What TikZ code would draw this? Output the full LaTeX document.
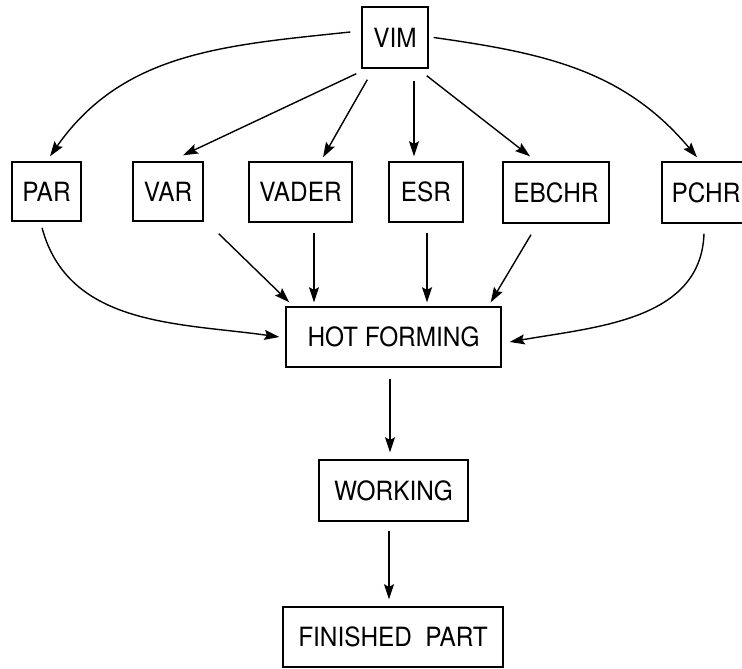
\documentclass[tikz,border=0pt]{standalone}
\usepackage{fontspec}
\setmainfont{TeX Gyre Heros}[FakeStretch=0.92]
\usetikzlibrary{arrows.meta}

\tikzset{
  box/.style={draw, line width=1.4pt, inner sep=0pt, minimum height=60pt,
              font=\fontsize{26.5}{30}\selectfont},
  flow/.style={line width=1.4pt, -{Stealth[length=15pt,width=10pt,inset=2.5pt]}},
}

\begin{document}
\begin{tikzpicture}[x=1pt, y=-1pt]
  \useasboundingbox (0,0) rectangle (742,669);

  % process boxes
  \node[box, minimum width=66pt, minimum height=61pt]  (vim)   at (395,37.5)  {VIM};
  \node[box, minimum width=69pt, minimum height=59pt]  (par)   at (46.5,191.5) {PAR};
  \node[box, minimum width=70pt, minimum height=59pt]  (var)   at (168,191.5)  {VAR};
  \node[box, minimum width=103pt]                      (vader) at (300.5,192)  {VADER};
  \node[box, minimum width=74pt]                       (esr)   at (426,192)    {ESR};
  \node[box, minimum width=106pt, minimum height=61pt] (ebchr) at (556,192.5)  {EBCHR};
  \node[box, minimum width=88pt, minimum height=61pt]  (pchr)  at (706,192.5)  {PCHR};
  \node[box, minimum width=215pt]                      (hot)   at (393.5,337)  {HOT FORMING};
  \node[box, minimum width=149pt, minimum height=61pt] (work)  at (393.5,490.5) {WORKING};
  \node[box, minimum width=220pt]                      (fin)   at (393,637)    {FINISHED\hspace{0.5em}PART};

  % VIM to the remelting routes
  \draw[flow] ([xshift=-11pt,yshift=5.5pt]vim.west) to[out=186, in=55]
              ([xshift=3.5pt,yshift=5pt]par.north);
  \draw[flow] ([xshift=5pt]vim.east) to[out=-8, in=130]
              ([xshift=-9pt,yshift=4pt]pchr.north);
  \draw[flow] ([xshift=-5pt,yshift=-5pt]vim.south west) -- ([xshift=15pt,yshift=6pt]var.north);
  \draw[flow] ([xshift=6pt,yshift=-11pt]vim.south west) -- ([xshift=22.5pt,yshift=4pt]vader.north);
  \draw[flow] ([xshift=19pt,yshift=-12pt]vim.south) -- ([xshift=-12pt,yshift=5pt]esr.north);
  \draw[flow] ([xshift=-2pt,yshift=-7pt]vim.south east) -- ([xshift=-26pt,yshift=5pt]ebchr.north);

  % remelting routes to hot forming
  \draw[flow] ([xshift=-4.5pt,yshift=-6pt]par.south) to[out=-75, in=172]
              ([xshift=-6pt]hot.west);
  \draw[flow] ([xshift=15pt,yshift=-12pt]var.south east) -- ([xshift=4pt,yshift=4pt]hot.north west);
  \draw[flow] ([xshift=13.5pt,yshift=-10pt]vader.south) -- ([xshift=-79.5pt,yshift=4pt]hot.north);
  \draw[flow] ([xshift=1pt,yshift=-10pt]esr.south) -- ([xshift=33.5pt,yshift=4pt]hot.north);
  \draw[flow] ([xshift=-25pt,yshift=-11pt]ebchr.south) -- ([xshift=-11pt,yshift=4pt]hot.north east);
  \draw[flow] ([xshift=-2pt,yshift=-10pt]pchr.south) to[out=-92, in=10]
              ([xshift=8pt,yshift=-5pt]hot.east);

  % downstream processing
  \draw[flow] ([xshift=-3.5pt,yshift=-11pt]hot.south) -- ([xshift=-3.5pt,yshift=7pt]work.north);
  \draw[flow] ([xshift=-4.5pt,yshift=-9pt]work.south) -- ([xshift=-4pt,yshift=7pt]fin.north);
\end{tikzpicture}
\end{document}
